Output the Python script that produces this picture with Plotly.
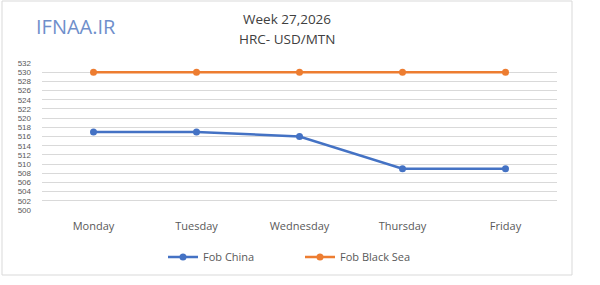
import plotly.graph_objects as go

days = ["Monday", "Tuesday", "Wednesday", "Thursday", "Friday"]
fob_china = [517, 517, 516, 509, 509]
fob_black_sea = [530, 530, 530, 530, 530]
y_ticks = list(range(500, 533, 2))

W, H = 600, 285
L, R, T, B = 42, 43, 63, 75
pw, ph = W - L - R, H - T - B

def px(x):
    return (x - L) / pw

def py(y):
    return (H - B - y) / ph

fig = go.Figure()
fig.add_trace(go.Scatter(x=days, y=fob_china, name="Fob China", mode="lines+markers",
                         line=dict(color="#4472C4", width=2.5),
                         marker=dict(size=7, color="#4472C4")))
fig.add_trace(go.Scatter(x=days, y=fob_black_sea, name="Fob Black Sea", mode="lines+markers",
                         line=dict(color="#ED7D31", width=2.5),
                         marker=dict(size=7, color="#ED7D31")))

fig.update_layout(
    width=W, height=H,
    margin=dict(l=L, r=R, t=T, b=B),
    paper_bgcolor="white", plot_bgcolor="white",
    font=dict(family="Open Sans", color="#595959", size=11),
    showlegend=True,
    legend=dict(orientation="h", x=px(163), xanchor="left", y=py(257), yanchor="middle",
                entrywidth=92, entrywidthmode="pixels",
                font=dict(size=11, color="#595959"), bgcolor="rgba(0,0,0,0)"),
    xaxis=dict(range=[-0.5, 4.5], showgrid=False, showline=False, zeroline=False,
               ticks="", ticklabelstandoff=8, tickfont=dict(size=11, color="#595959")),
    yaxis=dict(range=[500, 532], tickvals=y_ticks, ticktext=[str(v) for v in y_ticks],
               showgrid=True, gridcolor="#D9D9D9", gridwidth=1, zeroline=False,
               showline=False, ticks="", ticklabelstandoff=10,
               tickfont=dict(size=8, color="#595959", family="Liberation Sans")),
    shapes=[dict(type="rect", xref="paper", yref="paper",
                 x0=px(2), x1=px(572), y0=py(275), y1=py(1),
                 line=dict(color="#D9D9D9", width=1), fillcolor="rgba(0,0,0,0)", layer="below")],
    annotations=[
        dict(text="Week 27,2026", x=px(287), y=py(19), xref="paper", yref="paper",
             showarrow=False, font=dict(size=13.5, color="#404040"), xanchor="center", yanchor="middle"),
        dict(text="HRC- USD/MTN", x=px(287), y=py(39), xref="paper", yref="paper",
             showarrow=False, font=dict(size=13.5, color="#404040"), xanchor="center", yanchor="middle"),
        dict(text="IFNAA.IR", x=px(76), y=py(27), xref="paper", yref="paper",
             showarrow=False, font=dict(size=20, color="#6F8FCB", family="Open Sans"),
             xanchor="center", yanchor="middle"),
    ],
)

fig.write_html("out.html")
